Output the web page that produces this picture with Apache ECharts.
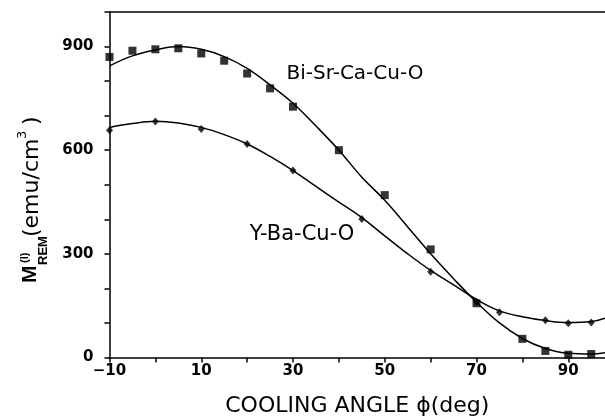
<!DOCTYPE html>
<html>
<head>
<meta charset="utf-8">
<script src="https://cdn.jsdelivr.net/npm/echarts@6/dist/echarts.min.js"></script>
<style>
html,body{margin:0;padding:0;background:#fff;}
#chart{width:605px;height:419px;}
</style>
</head>
<body>
<div id="chart"></div>
<script>
// Measured points: Bi-Sr-Ca-Cu-O (squares)
const biX = [-10, -5, 0, 5, 10, 15, 20, 25, 30, 40, 50, 60, 70, 80, 85, 90, 95];
const biY = [870, 888, 892, 895, 880, 859, 822, 779, 726, 600, 470, 313, 157, 54, 19, 8, 10];
// Measured points: Y-Ba-Cu-O (diamonds)
const ybX = [-10, 0, 10, 20, 30, 45, 60, 70, 75, 85, 90, 95];
const ybY = [658, 683, 661, 618, 541, 401, 248, 161, 131, 108, 99, 101];
// Fitted curves
const curveX = [-10, -5, 0, 5, 10, 15, 20, 25, 30, 35, 40, 45, 50, 55, 60, 65, 70, 75, 80, 85, 90, 95, 98];
const biCurve = [844, 873, 890, 900, 892, 871, 837, 789, 736, 670, 600, 522, 455, 378, 300, 228, 160, 100, 55, 26, 12, 10, 14];
const ybCurve = [666, 677, 684, 679, 666, 645, 618, 582, 541, 495, 450, 405, 352, 300, 252, 210, 168, 135, 118, 107, 101, 104, 114];
// Tick label sets
const xLabelTicks = [-10, 10, 30, 50, 70, 90];
const yLabelTicks = [0, 300, 600, 900];

const zip = (xs, ys) => xs.map((x, i) => [x, ys[i]]);
const chart = echarts.init(document.getElementById('chart'), null, {renderer: 'canvas'});
const lblFont = {fontFamily: 'DejaVu Sans', fontWeight: 'bold', fontSize: 15, color: '#000'};
const axisLineStyle = {color: '#000', width: 1.5};
const gy = 283;
const ytxt = (text, u, v, fam, size, bold) => ({
  type: 'text',
  style: {text: text, x: u, y: v, verticalAlign: 'middle', align: 'left', fontFamily: fam, fontWeight: bold ? 'bold' : 'normal', fontSize: size, fill: '#000'}
});
chart.setOption({
  animation: false,
  backgroundColor: '#fff',
  grid: {left: 109.5, right: 0, top: 12, bottom: 61.5, outerBoundsMode: 'none', containLabel: false},
  xAxis: [{
    type: 'value', min: -10, max: 98, interval: 10,
    axisLine: {show: true, onZero: false, lineStyle: axisLineStyle},
    axisTick: {show: true, length: 5, lineStyle: axisLineStyle},
    splitLine: {show: false},
    axisLabel: Object.assign({margin: 6, showMaxLabel: false, formatter: v => xLabelTicks.includes(v) ? (v < 0 ? '\u2212' + Math.abs(v) : String(v)) : ''}, lblFont),
    name: 'COOLING ANGLE \u03d5(deg)', nameLocation: 'middle', nameGap: 38,
    nameTextStyle: {fontFamily: 'DejaVu Sans', fontSize: 22, color: '#000'}
  }, {
    type: 'value', position: 'top', min: -10, max: 98,
    axisLine: {show: true, onZero: false, lineStyle: axisLineStyle},
    axisTick: {show: false}, axisLabel: {show: false}, splitLine: {show: false}
  }],
  yAxis: {
    type: 'value', min: 0, max: 1000, interval: 100,
    axisLine: {show: true, onZero: false, lineStyle: axisLineStyle},
    axisTick: {show: true, length: 5, lineStyle: axisLineStyle},
    splitLine: {show: false},
    axisLabel: Object.assign({margin: 16, formatter: v => yLabelTicks.includes(v) ? String(v) : ''}, lblFont)
  },
  series: [
    {type: 'line', data: zip(curveX, biCurve), smooth: 0.4, showSymbol: false, lineStyle: {color: '#000', width: 1.5}, z: 2},
    {type: 'line', data: zip(curveX, ybCurve), smooth: 0.4, showSymbol: false, lineStyle: {color: '#000', width: 1.5}, z: 2},
    {type: 'scatter', data: zip(biX, biY), symbol: 'rect', symbolSize: 8, itemStyle: {color: '#000'}, z: 3},
    {type: 'scatter', data: zip(ybX, ybY), symbol: 'diamond', symbolSize: [7, 8], itemStyle: {color: '#000'}, z: 3}
  ],
  graphic: [
    {type: 'text', style: {text: 'Bi-Sr-Ca-Cu-O', x: 355, y: 74, align: 'center', verticalAlign: 'middle', fontFamily: 'DejaVu Sans', fontSize: 20, fill: '#000'}},
    {type: 'text', style: {text: 'Y-Ba-Cu-O', x: 302, y: 235, align: 'center', verticalAlign: 'middle', fontFamily: 'DejaVu Sans', fontSize: 21, fill: '#000'}},
    {type: 'group', x: 0, y: gy, rotation: Math.PI / 2, children: [
      // local u runs up the page, local v maps to screen x after rotation
      ytxt('M', 0, 30, 'Liberation Sans', 21, true),
      ytxt('(l)', 20, 25, 'Liberation Sans', 11, true),
      ytxt('REM', 18, 43.5, 'Liberation Sans', 13, true),
      ytxt('(emu/cm', 46, 32, 'DejaVu Sans', 22, false),
      ytxt('3', 144, 23, 'DejaVu Sans', 13, false),
      ytxt(')', 158, 32, 'DejaVu Sans', 22, false)
    ]}
  ]
});
</script>
</body>
</html>
